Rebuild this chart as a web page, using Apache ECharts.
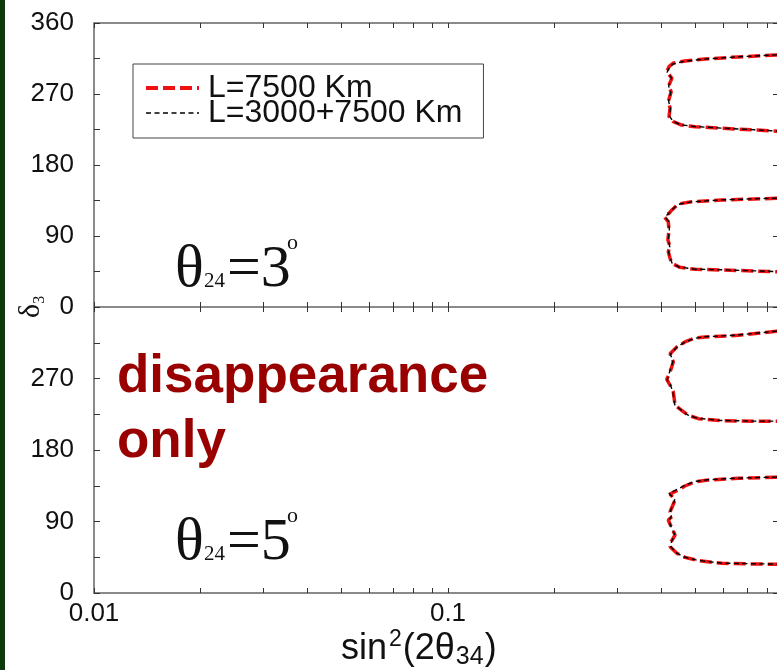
<!DOCTYPE html>
<html>
<head>
<meta charset="utf-8">
<script src="https://cdn.jsdelivr.net/npm/echarts@6.0.0/dist/echarts.min.js"></script>
<style>
  html, body { margin: 0; padding: 0; background: #ffffff; }
  #chart { width: 777px; height: 670px; }
</style>
</head>
<body>
<div id="chart"></div>
<script>
// Legend entries
const seriesNames = ['L=7500 Km', 'L=3000+7500 Km'];

// Log-axis ticks for sin^2(2θ34) and the labelled decades
const xTickValues = [0.01, 0.02, 0.03, 0.04, 0.05, 0.06, 0.07, 0.08, 0.09,
                     0.1, 0.2, 0.3, 0.4, 0.5, 0.6, 0.7, 0.8, 0.9, 1];
const xLabelValues = [0.01, 0.1, 1];

// δ3 tick labels for the two panels
const yLabelsTop = [0, 90, 180, 270, 360];
const yLabelsBottom = [0, 90, 180, 270];

// θ24 = 3°, L = 7500 km : contours as [sin^2(2θ34), δ3]
const t3UpperA = [[0.95, 320], [0.848, 319.4], [0.66, 317], [0.532, 314.4], [0.467, 311.9], [0.432, 308.9],
  [0.421, 304.6], [0.415, 298.3], [0.429, 289.9], [0.419, 279.3], [0.427, 272.9], [0.419, 260.2],
  [0.424, 252.2], [0.421, 241.2], [0.433, 234.9], [0.457, 230.7], [0.499, 228.5], [0.593, 226.5],
  [0.737, 224.4], [0.821, 223.1], [0.95, 222]];
const t3LowerA = [[0.95, 138.5], [0.848, 137.8], [0.593, 135.6], [0.488, 133.5], [0.447, 130.6], [0.429, 123],
  [0.421, 118.8], [0.408, 114.5], [0.419, 108.1], [0.421, 97.6], [0.418, 84.9], [0.424, 76.4],
  [0.419, 70.1], [0.424, 61.7], [0.429, 55.4], [0.452, 50.3], [0.499, 47.8], [0.593, 46.9],
  [0.737, 45.6], [0.839, 44.7], [0.95, 44.5]];

// θ24 = 3°, L = 3000 + 7500 km
const t3UpperB = [[0.95, 320.5], [0.85, 319.6], [0.66, 317.2], [0.53, 314.2], [0.465, 311.5], [0.433, 308.2],
  [0.422, 304], [0.416, 297.5], [0.428, 290.5], [0.42, 280], [0.426, 272], [0.42, 261],
  [0.425, 251.5], [0.422, 242], [0.432, 235.5], [0.455, 231], [0.497, 228.8], [0.59, 226.8],
  [0.735, 224.6], [0.82, 223.4], [0.95, 222.3]];
const t3LowerB = [[0.95, 138.8], [0.85, 138], [0.59, 135.8], [0.486, 133.2], [0.446, 130], [0.43, 123.5],
  [0.422, 119.5], [0.41, 114], [0.42, 108.5], [0.422, 98], [0.419, 85.5], [0.423, 77],
  [0.42, 69.5], [0.425, 61], [0.43, 55], [0.45, 50.6], [0.497, 48], [0.59, 47.2],
  [0.735, 45.8], [0.84, 45], [0.95, 44.8]];

// θ24 = 5°, L = 7500 km
const t5UpperA = [[0.95, 330], [0.848, 329.4], [0.661, 324.4], [0.532, 322.3], [0.499, 321], [0.467, 316],
  [0.443, 309.7], [0.424, 301.2], [0.433, 290.8], [0.424, 278.2], [0.415, 269], [0.424, 261.5],
  [0.433, 253], [0.438, 236.3], [0.457, 230], [0.477, 223.7], [0.51, 219.4], [0.593, 216.9],
  [0.737, 216.1], [0.839, 216.1], [0.95, 216]];
const t5LowerA = [[0.95, 146], [0.839, 145.6], [0.661, 144.4], [0.544, 142.2], [0.499, 140.1], [0.467, 134.7],
  [0.443, 128.8], [0.424, 124.6], [0.438, 117.1], [0.424, 102.3], [0.429, 96], [0.419, 91.9],
  [0.429, 81.4], [0.438, 73], [0.427, 64.6], [0.424, 58.3], [0.443, 50], [0.467, 44.9],
  [0.51, 40.7], [0.593, 37.4], [0.737, 36.5], [0.839, 36.1], [0.95, 36]];

// θ24 = 5°, L = 3000 + 7500 km
const t5UpperB = [[0.95, 330.3], [0.85, 329.7], [0.66, 324.7], [0.53, 322.5], [0.497, 320.6], [0.465, 315.5],
  [0.442, 309], [0.425, 300.5], [0.432, 291.5], [0.423, 278.8], [0.416, 268.5], [0.425, 262],
  [0.432, 252.5], [0.437, 237], [0.455, 230.5], [0.475, 224.2], [0.508, 219.8], [0.59, 217.2],
  [0.735, 216.4], [0.84, 216.4], [0.95, 216.3]];
const t5LowerB = [[0.95, 146.3], [0.84, 145.9], [0.66, 144.6], [0.542, 142.5], [0.497, 140.4], [0.465, 135.2],
  [0.44, 129.5], [0.421, 125.5], [0.437, 117.5], [0.425, 103], [0.428, 96.5], [0.42, 91.2],
  [0.428, 82], [0.437, 73.5], [0.428, 65], [0.425, 58.8], [0.442, 50.5], [0.465, 45.3],
  [0.508, 41], [0.59, 37.7], [0.735, 36.8], [0.84, 36.4], [0.95, 36.3]];

const FRAME = '#8a8a8a';
const TICK = '#333333';
const RED = '#ee1111';
const BLACK = '#000000';
const SANS = '"Liberation Sans", Arial, sans-serif';
const SERIF = '"Liberation Serif", "Times New Roman", serif';

// dashed styles of the two baselines
const redLine = { color: RED, width: 3.5, type: [12, 5] };
const blackLine = { color: BLACK, width: 1.4, type: [5, 3.5] };

function fmtX(v) { return String(+(+v).toPrecision(3)); }

function xAxis(gridIndex, position, showLabels) {
  return {
    type: 'log', logBase: 10, gridIndex: gridIndex, position: position,
    min: 0.01, max: 1,
    axisLine: { show: true, onZero: false, lineStyle: { color: FRAME, width: 2 } },
    axisTick: { show: true, inside: true, length: 5, customValues: xTickValues,
                lineStyle: { color: TICK, width: 1 } },
    minorTick: { show: false },
    splitLine: { show: false },
    axisLabel: { show: showLabels, customValues: xLabelValues, formatter: fmtX,
                 fontSize: 26, fontFamily: SANS, color: '#111', margin: 8 }
  };
}

function yAxis(gridIndex, position, labels) {
  const isLeft = position === 'left';
  return {
    type: 'value', gridIndex: gridIndex, position: position,
    min: 0, max: 360, interval: isLeft ? 45 : 90,
    axisLine: { show: true, onZero: false, lineStyle: { color: FRAME, width: 2 } },
    axisTick: { show: true, inside: true, length: isLeft ? 6 : 29,
                lineStyle: { color: TICK, width: 1 } },
    splitLine: { show: false },
    axisLabel: labels ? { show: true, customValues: labels, fontSize: 26, fontFamily: SANS,
                          color: '#111', margin: 20 } : { show: false }
  };
}

function contour(name, data, xi, yi) {
  const isRed = name === seriesNames[0];
  return {
    type: 'line', name: name, data: data,
    xAxisIndex: xi, yAxisIndex: yi,
    showSymbol: false, symbol: 'none', smooth: false, animation: false,
    z: isRed ? 2 : 3,
    itemStyle: { color: isRed ? RED : BLACK },
    lineStyle: isRed ? redLine : blackLine
  };
}

const chart = echarts.init(document.getElementById('chart'), null, { renderer: 'canvas' });

chart.setOption({
  backgroundColor: '#ffffff',
  animation: false,
  grid: [
    { left: 94, top: 23, width: 708, height: 284, outerBoundsMode: 'none', containLabel: false },
    { left: 94, top: 307, width: 708, height: 286, outerBoundsMode: 'none', containLabel: false }
  ],
  xAxis: [
    xAxis(0, 'bottom', false),
    xAxis(0, 'top', false),
    xAxis(1, 'top', false),
    xAxis(1, 'bottom', true)
  ],
  yAxis: [
    yAxis(0, 'left', yLabelsTop),
    yAxis(0, 'right', null),
    yAxis(1, 'left', yLabelsBottom),
    yAxis(1, 'right', null)
  ],
  legend: {
    data: [
      { name: seriesNames[0], lineStyle: { color: RED, width: 4, type: [12, 5] } },
      { name: seriesNames[1], lineStyle: { color: BLACK, width: 1.5, type: [5, 3.5] } }
    ],
    orient: 'vertical',
    left: 133, top: 64,
    padding: [8, 21, 9, 11],
    itemGap: -7,
    itemWidth: 53, itemHeight: 20,
    backgroundColor: '#ffffff',
    borderColor: '#444444', borderWidth: 1, borderRadius: 0,
    selectedMode: false,
    itemStyle: { opacity: 0, borderWidth: 0 },
    textStyle: { fontSize: 32, fontFamily: SANS, color: '#111', padding: [0, 0, 0, 4] }
  },
  series: [
    contour(seriesNames[0], t3UpperA, 0, 0),
    contour(seriesNames[0], t3LowerA, 0, 0),
    contour(seriesNames[1], t3UpperB, 0, 0),
    contour(seriesNames[1], t3LowerB, 0, 0),
    contour(seriesNames[0], t5UpperA, 3, 2),
    contour(seriesNames[0], t5LowerA, 3, 2),
    contour(seriesNames[1], t5UpperB, 3, 2),
    contour(seriesNames[1], t5LowerB, 3, 2)
  ],
  graphic: [
    // slide border on the left
    { type: 'rect', left: 0, top: 0, z: 100, shape: { width: 5, height: 670 }, style: { fill: '#0c3a0c' } },
    // panel captions
    { type: 'text', x: 175, y: 240, z: 50, style: { text: 'θ', font: '60px ' + SERIF, fill: '#111' } },
    { type: 'text', x: 204, y: 271, z: 50, style: { text: '24', font: '21px ' + SERIF, fill: '#111' } },
    { type: 'text', x: 227, y: 240, z: 50, style: { text: '=3', font: '60px ' + SERIF, fill: '#111' } },
    { type: 'text', x: 287, y: 232, z: 50, style: { text: 'o', font: '22px ' + SERIF, fill: '#111' } },
    { type: 'text', x: 175, y: 513, z: 50, style: { text: 'θ', font: '60px ' + SERIF, fill: '#111' } },
    { type: 'text', x: 204, y: 544, z: 50, style: { text: '24', font: '21px ' + SERIF, fill: '#111' } },
    { type: 'text', x: 227, y: 513, z: 50, style: { text: '=5', font: '60px ' + SERIF, fill: '#111' } },
    { type: 'text', x: 287, y: 505, z: 50, style: { text: 'o', font: '22px ' + SERIF, fill: '#111' } },
    { type: 'text', x: 117, y: 345, z: 50,
      style: { text: 'disappearance\nonly', font: 'bold 53px ' + SANS, fill: '#990000', lineHeight: 65 } },
    // axis titles
    { type: 'text', x: 341, y: 628, z: 50,
      style: { text: '{m|sin}{p|2}{m|(2θ}{b|34}{m|)}',
               rich: { m: { fontSize: 36, fontFamily: SANS, fill: '#111', lineHeight: 42 },
                       p: { fontSize: 23, fontFamily: SANS, fill: '#111', verticalAlign: 'top', padding: [0, 1, 0, 2] },
                       b: { fontSize: 25, fontFamily: SANS, fill: '#111', verticalAlign: 'bottom', padding: [0, 1, 0, 1] } } } },
    { type: 'text', x: 14, y: 318, rotation: Math.PI / 2, z: 50,
      style: { text: '{d|δ}{s|3}',
               rich: { d: { fontSize: 30, fontFamily: SERIF, fill: '#111', lineHeight: 34 },
                       s: { fontSize: 16, fontFamily: SERIF, fill: '#111', verticalAlign: 'bottom' } } } }
  ]
});
</script>
</body>
</html>
